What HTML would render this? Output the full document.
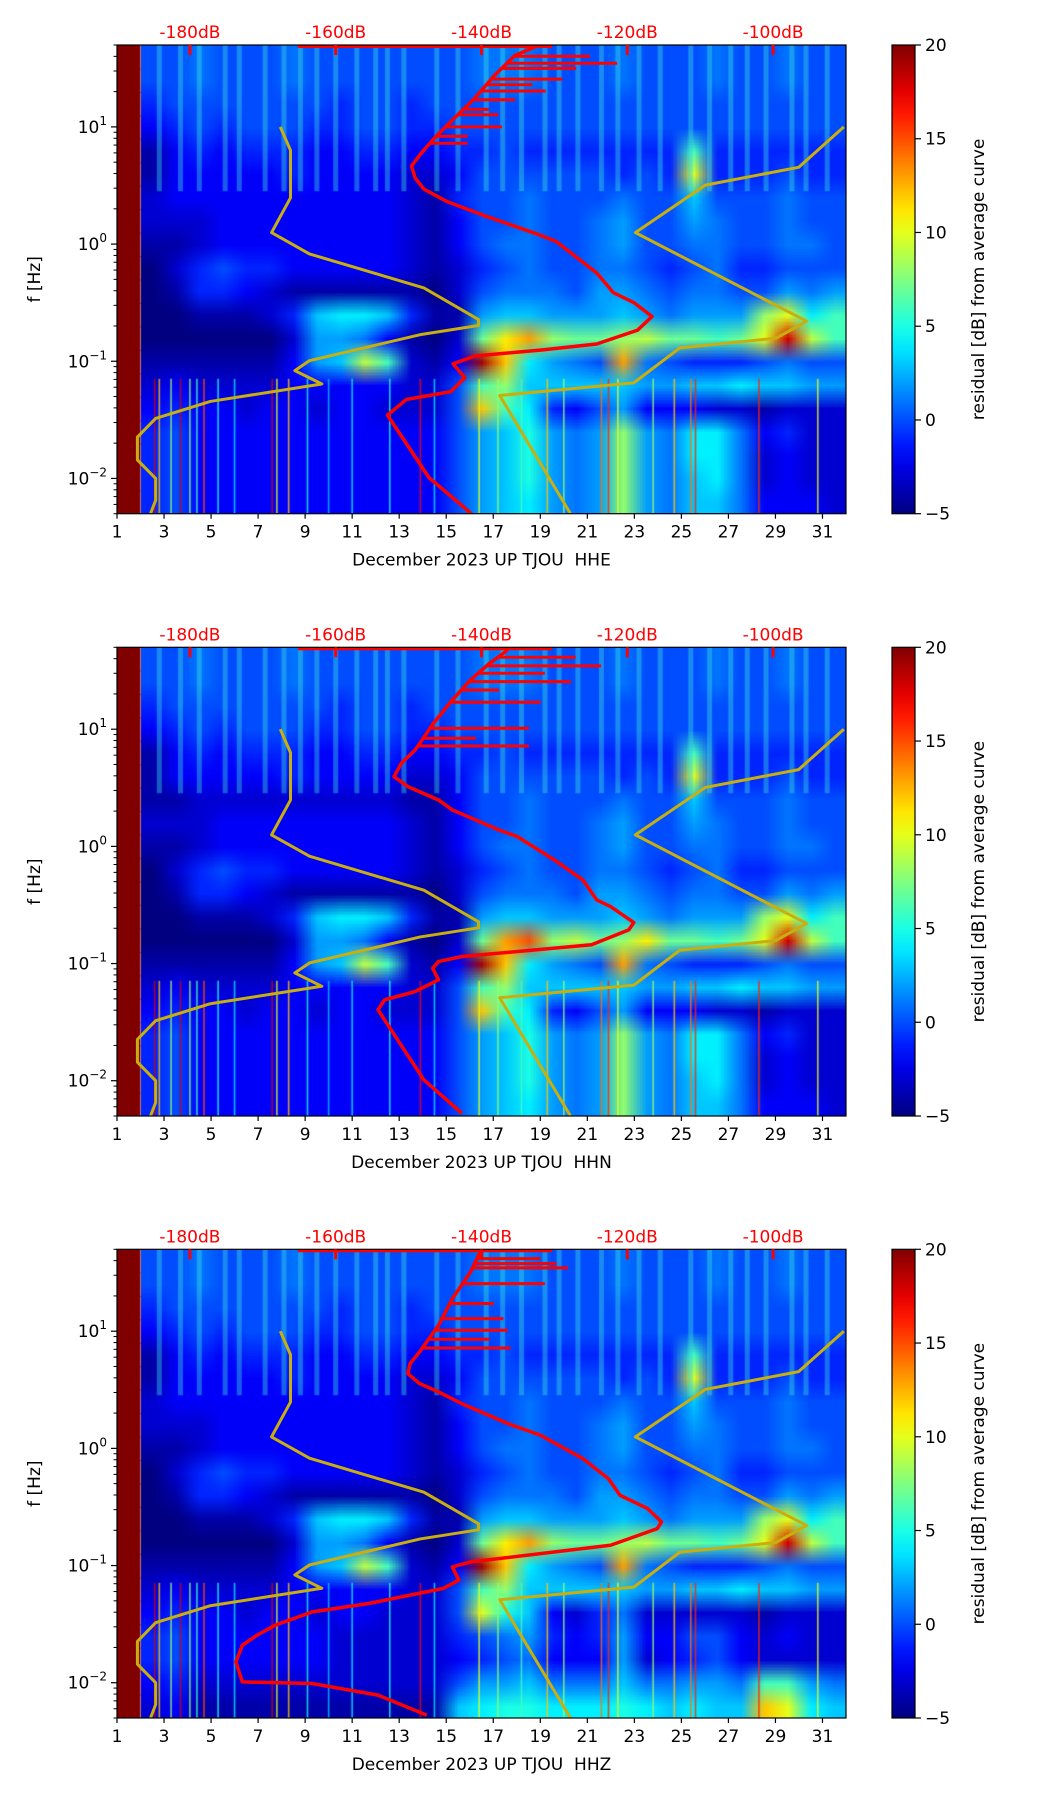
<!DOCTYPE html>
<html><head><meta charset="utf-8">
<style>
html,body{margin:0;padding:0;background:#fff;}
#wrap{position:relative;width:1052px;height:1806px;overflow:hidden;background:#fff;}
canvas{position:absolute;}
svg{position:absolute;left:0;top:0;}
text{font-family:"DejaVu Sans","Liberation Sans",sans-serif;white-space:pre;}
</style></head>
<body>
<div id="wrap">
<svg id="svg" width="1052" height="1806"></svg>
</div>
<script>
// ---------- data ----------
const dayTicks = [1,3,5,7,9,11,13,15,17,19,21,23,25,27,29,31];
const dbTicks = [-180,-160,-140,-120,-100];
const yDecades = [-2,-1,0,1];
const cbTicks = [20,15,10,5,0,-5];
const panelLabels = ["December 2023 UP TJOU\u00a0 HHE","December 2023 UP TJOU\u00a0 HHN","December 2023 UP TJOU\u00a0 HHZ"];

// Noise model curves (dB, log10 f)
const nlnmDb   = [-167.6,-166.2,-166.2,-168.8,-163.6,-147.9,-140.4,-140.4,-148.4,-163.6,-165.6,-161.9,-177.2,-184.7,-187.2,-187.2,-184.7,-184.7,-185.4];
const nlnmLogf = [1.0,0.80,0.395,0.098,-0.084,-0.374,-0.644,-0.695,-0.773,-0.995,-1.08,-1.194,-1.343,-1.488,-1.647,-1.842,-2.0,-2.187,-2.3];
const nhnmDb   = [-90.3,-96.5,-109.3,-118.9,-95.4,-99.6,-112.8,-119.1,-137.5,-127.8];
const nhnmLogf = [1.0,0.655,0.503,0.098,-0.658,-0.803,-0.886,-1.184,-1.292,-2.3];

// Red mean curves per panel
const redEDb   = [-141.4,-147.2,-152.9,-150.3,-144.2,-142.3,-143.9,-140.9,-131.6,-124.2,-118.6,-116.6,-119.1,-121.9,-124.2,-129.8,-132.6,-139.6,-144.7,-147.9,-149.1,-149.6,-148.4,-146.5,-143.8,-141.0,-138.2,-135.4,-132.6];
const redELogf = [-2.3,-1.993,-1.46,-1.326,-1.259,-1.14,-1.022,-0.955,-0.903,-0.853,-0.735,-0.618,-0.499,-0.415,-0.246,0.024,0.091,0.243,0.362,0.469,0.564,0.666,0.766,0.902,1.07,1.239,1.441,1.61,1.684];
const spikeELogf = [1.543,1.603,1.408,1.306,1.232,1.0,0.861,1.104,0.92,1.15,1.36,1.5];
const spikeEDb   = [-121.4,-125.1,-128.9,-131.2,-135.4,-137.2,-141.9,-137.7,-141.9,-139.0,-133.0,-127.0];

const redNDb   = [-142.7,-147.9,-154.2,-153.3,-149.1,-145.9,-146.7,-145.9,-142.7,-124.9,-119.8,-119.1,-122.3,-124.2,-126.1,-130.0,-135.1,-137.6,-144.0,-145.9,-150.1,-152.0,-151.0,-149.1,-146.6,-144.0,-141.5,-138.9,-136.4];
const redNLogf = [-2.277,-1.993,-1.395,-1.31,-1.239,-1.139,-1.04,-0.983,-0.94,-0.84,-0.713,-0.65,-0.514,-0.457,-0.286,-0.116,0.084,0.14,0.311,0.396,0.51,0.595,0.709,0.823,1.05,1.25,1.42,1.562,1.676];
const spikeNLogf = [0.857,0.923,1.008,1.23,1.335,1.406,1.54,1.614,1.477];
const spikeNDb   = [-133.5,-140.8,-133.5,-131.9,-137.6,-127.7,-123.6,-127.1,-131.3];

const redZDb   = [-147.5,-154.2,-163.2,-172.8,-173.7,-172.8,-170.8,-168.3,-163.2,-155.5,-145.3,-143.1,-144.0,-141.5,-122.3,-115.9,-115.3,-117.2,-121.0,-122.6,-126.1,-131.9,-136.4,-142.7,-145.9,-148.5,-150.1,-149.8,-148.5,-145.9,-144.0,-141.5,-140.2];
const redZLogf = [-2.277,-2.106,-2.007,-1.993,-1.822,-1.68,-1.595,-1.509,-1.395,-1.324,-1.196,-1.125,-1.012,-0.969,-0.827,-0.685,-0.628,-0.514,-0.4,-0.258,-0.087,0.112,0.212,0.382,0.482,0.553,0.638,0.723,0.823,1.05,1.278,1.505,1.676];
const spikeZLogf = [0.857,0.931,1.008,1.107,1.236,1.406,1.54,1.577,1.619];
const spikeZDb   = [-136.0,-138.9,-136.4,-137.0,-138.3,-131.3,-128.1,-129.7,-131.9];

// red line along top border (dB start, dB end)
const topLineDb = [-165.2,-130.3];

// Residual grid: 20 rows (log f 1.6 down to -2.2, 0.2 decade each) x 31 day columns (day 1..31)
const gridE = [
[20,0,0,1,0,0,0,1,0,0,0,0,0,0,0,1,1,1,0,0,0,1,0,0,0,1,0,0,1,0,0],
[20,0,0,1,0,0,0,1,0,0,0,0,0,0,0,1,1,1,0,0,0,1,0,0,0,1,0,0,1,0,0],
[20,-1,0,0,0,0,0,0,0,-1,0,0,-1,0,0,0,0,0,0,0,0,0,0,0,0,0,0,0,0,0,0],
[20,-2,-1,0,-1,0,0,0,-1,-1,0,0,-1,-1,0,0,0,0,0,0,0,0,0,0,0,0,0,0,0,0,0],
[20,-4,-2,-1,-2,-1,-1,-1,-2,-2,-1,-1,-2,-2,-1,-1,0,-1,-1,-1,-1,-1,-1,-1,6,-1,-1,-1,-1,-1,-1],
[20,-4,-2,-2,-2,-2,-2,-1,-2,-2,-2,-2,-3,-3,-2,0,0,0,0,0,0,-1,0,-1,10,-1,-1,-1,0,-1,-1],
[20,-3,-2,-2,-2,-2,-2,-2,-2,-2,-2,-2,-3,-4,-1,0,0,1,0,0,0,1,0,0,3,0,0,0,1,0,0],
[20,-3,-3,-3,-2,-2,-2,-2,-2,-2,-2,-2,-3,-4,-2,0,0,1,0,0,1,2,0,0,2,1,0,0,1,0,0],
[20,-4,-4,-3,-2,-2,-2,-2,-2,-2,-2,-2,-3,-4,-2,0,1,1,0,0,1,2,0,0,1,1,0,0,1,1,0],
[20,-5,-3,-1,0,-1,-1,-2,-2,-2,-2,-2,-3,-4,-3,-1,0,1,0,0,1,1,0,-1,0,1,-1,-1,0,0,0],
[20,-5,-4,-1,-1,-2,-3,-4,-4,-4,-4,-4,-4,-5,-3,0,1,1,1,0,2,2,1,0,1,1,0,0,2,1,2],
[20,-5,-5,-4,-4,-4,-3,-1,3,4,4,3,-1,-4,-4,2,3,3,2,2,2,3,2,1,2,2,2,8,10,4,6],
[20,-5,-5,-5,-5,-5,-5,-3,2,2,1,-2,-4,-5,-3,7,11,13,8,7,7,8,9,7,7,6,7,10,18,9,6],
[20,-4,-4,-4,-4,-4,-4,-2,2,3,9,6,-3,-4,-2,19,12,4,2,1,0,13,1,0,-1,-1,-1,0,1,0,0],
[20,-3,-2,-3,-3,-3,-3,-2,-2,-2,-2,-2,-3,-3,0,6,8,3,3,3,3,3,2,2,3,3,4,3,3,2,2],
[20,-2,-1,-2,-2,-3,-2,-2,-3,-2,-2,-3,-3,-3,0,12,6,4,-1,-2,0,2,-2,-2,-2,-3,-3,-4,-3,-3,-3],
[20,-1,0,-2,-2,-2,-2,-2,-2,-2,-2,-2,-2,-2,0,2,3,5,2,1,2,8,2,1,4,4,1,-2,-1,-3,-3],
[20,-1,0,-2,-2,-2,-2,-2,-2,-2,-2,-2,-2,-2,0,2,3,5,2,1,2,8,2,1,4,4,1,-3,-2,-3,-3],
[20,-1,0,-2,-2,-2,-2,-2,-2,-2,-2,-2,-2,-2,0,2,3,5,2,1,2,8,2,1,3,4,1,-3,-2,-3,-3],
[20,-1,0,-2,-2,-2,-2,-2,-2,-2,-2,-2,-2,-2,0,2,3,4,2,1,2,8,2,1,3,3,1,-2,-2,-2,-3]
];
// HHN: lower boundary of high-frequency band differs slightly
const gridNRow6 = [20,-4,-4,-3,-3,-3,-3,-3,-3,-3,-3,-3,-4,-4,-2,0,0,1,0,0,0,1,0,0,3,0,0,0,1,0,0];
const gridNRow12 = [20,-5,-5,-5,-5,-5,-5,-3,2,2,1,-2,-4,-5,-3,7,13,15,8,9,7,8,11,7,7,6,7,10,18,9,6];
// HHZ: replaces rows 15..19
const gridZLow = [
[20,-2,-1,-2,-2,-3,-2,-2,-3,-2,-2,-3,-3,-3,0,10,5,3,-2,-3,-1,1,-3,-3,-3,-3,-3,-4,-3,-3,-3],
[20,-1,0,-2,-2,-2,-2,-2,-2,-3,-3,-3,-3,-3,-1,0,1,2,-1,-2,-1,2,-2,-2,0,0,-2,-3,-2,-3,-3],
[20,-1,0,-2,-2,-2,-2,-2,-2,-3,-3,-3,-3,-3,-2,-1,0,1,-2,-2,-2,2,-3,-2,-1,0,-2,-3,-3,-3,-3],
[20,-2,-1,-3,-3,-3,-3,-3,-3,-3,-3,-3,-3,-3,0,2,2,3,1,1,1,3,1,1,2,2,1,6,6,2,1],
[20,-3,-2,-4,-4,-4,-4,-4,-4,-4,-4,-4,-4,-4,3,4,5,5,4,4,4,5,4,3,4,3,3,12,10,4,3]
];

// vertical streaks
const hiStreakDays = [2.8,3.7,4.5,5.6,6.2,7.3,8.1,8.8,9.5,10.3,11.2,12.0,12.5,13.2,14.6,15.5,16.7,17.4,18.2,19.2,19.8,20.6,21.6,22.3,23.2,24.1,25.4,26.2,27.1,27.8,28.6,29.7,30.3,31.2];
const loStreakDays = [2.6,2.8,3.3,3.7,4.1,4.4,4.7,5.3,6.0,7.6,7.8,8.3,9.1,10.0,11.0,12.6,13.9,14.5,16.4,17.2,18.2,19.3,20.0,21.6,21.9,22.3,23.8,24.7,25.4,25.6,28.3,30.8];
const loStreakVals = [18,12,8,18,8,6,15,5,4,18,10,12,5,3,4,5,17,4,10,8,6,12,8,14,16,10,8,12,14,16,16,10];

// ---------- geometry ----------
const AX_L=117, AX_R=846, AX_H=468.7, PANEL_TOPS=[45,647.3,1249.3];
const LOG_TOP=Math.log10(50), LOG_BOT=Math.log10(0.005);
const CB_L=892, CB_W=23;
function xDay(d){return AX_L+(d-1)*(AX_R-AX_L)/31;}
function xDb(db){return AX_L+(db+190)*(AX_R-AX_L)/100;}
function yLog(top,lf){return top+(LOG_TOP-lf)*AX_H/(LOG_TOP-LOG_BOT);}
function jet(v){
  let t=Math.max(0,Math.min(1,(v+5)/25));
  const c=x=>Math.round(255*Math.max(0,Math.min(1,x)));
  return [c(1.5-Math.abs(4*t-3)),c(1.5-Math.abs(4*t-2)),c(1.5-Math.abs(4*t-1))];
}
function rgb(a){return `rgb(${a[0]},${a[1]},${a[2]})`;}
const NS="http://www.w3.org/2000/svg";
const svg=document.getElementById('svg');
function el(tag,attrs,parent){const e=document.createElementNS(NS,tag);for(const k in attrs)e.setAttribute(k,attrs[k]);(parent||svg).appendChild(e);return e;}

const defs=el('defs',{});
const lg=el('linearGradient',{id:'jetg',x1:0,y1:1,x2:0,y2:0},defs);
for(let i=0;i<=20;i++){const v=-5+25*i/20;el('stop',{offset:(i/20),'stop-color':rgb(jet(v))},lg);}

function interpDb(dbs,lfs,lf){
  for(let i=0;i<lfs.length-1;i++){
    const a=lfs[i],b=lfs[i+1];
    if((lf>=a&&lf<=b)||(lf<=a&&lf>=b)){const t=(lf-a)/(b-a||1);return dbs[i]+t*(dbs[i+1]-dbs[i]);}
  }
  return dbs[dbs.length-1];
}

function drawPanel(pi,grid,rDb,rLf,sLf,sDb){
  const top=PANEL_TOPS[pi], bot=top+AX_H;
  const wrap=document.getElementById('wrap');
  const cv=document.createElement('canvas');
  cv.width=AX_R-AX_L; cv.height=Math.round(AX_H);
  cv.style.left=AX_L+'px'; cv.style.top=top+'px';
  
  
  wrap.insertBefore(cv,svg);
  const ctx=cv.getContext('2d');
  const nR=grid.length,nC=grid[0].length;
  const off=document.createElement('canvas');off.width=nC-1;off.height=nR;
  const octx=off.getContext('2d');const img=octx.createImageData(nC-1,nR);
  for(let r=0;r<nR;r++)for(let c=1;c<nC;c++){const col=jet(grid[r][c]);const k=(r*(nC-1)+(c-1))*4;img.data[k]=col[0];img.data[k+1]=col[1];img.data[k+2]=col[2];img.data[k+3]=255;}
  octx.putImageData(img,0,0);
  ctx.imageSmoothingEnabled=true;
  const x2=xDay(2)-AX_L;
  ctx.drawImage(off,0,0,nC-1,nR,x2,0,cv.width-x2,cv.height);
  for(let r=0;r<nR;r++){ctx.fillStyle=rgb(jet(grid[r][0]));ctx.fillRect(0,r*cv.height/nR,x2,cv.height/nR+1);}
  const yHiEnd=yLog(top,0.45)-top;
  ctx.globalAlpha=0.4;ctx.strokeStyle='rgb(60,230,220)';ctx.lineWidth=5;
  hiStreakDays.forEach(d=>{const x=xDay(d)-AX_L;ctx.beginPath();ctx.moveTo(x,0);ctx.lineTo(x,yHiEnd);ctx.stroke();});
  ctx.globalAlpha=0.8;ctx.lineWidth=1.6;
  const yLo0=yLog(top,-1.15)-top;
  loStreakDays.forEach((d,i)=>{const x=xDay(d)-AX_L;ctx.strokeStyle=rgb(jet(loStreakVals[i]));ctx.beginPath();ctx.moveTo(x,yLo0);ctx.lineTo(x,cv.height);ctx.stroke();});
  ctx.globalAlpha=1;

  const g=el('g',{});
  
  
  const clipId='clip'+pi;
  const cp=el('clipPath',{id:clipId},defs);el('rect',{x:AX_L,y:top,width:AX_R-AX_L,height:AX_H},cp);
  const cg=el('g',{'clip-path':`url(#${clipId})`},g);
  const nl=el('polyline',{points:nlnmDb.map((d,i)=>xDb(d)+','+yLog(top,nlnmLogf[i])).join(' '),fill:'none',stroke:'rgb(200,175,15)','stroke-width':3,'stroke-linejoin':'round'},cg);
  
  const nh=el('polyline',{points:nhnmDb.map((d,i)=>xDb(d)+','+yLog(top,nhnmLogf[i])).join(' '),fill:'none',stroke:'rgb(200,175,15)','stroke-width':3,'stroke-linejoin':'round'},cg);
  
  sLf.forEach((lf,i)=>{
    const s=el('line',{x1:xDb(interpDb(rDb,rLf,lf)),x2:xDb(sDb[i]),y1:yLog(top,lf),y2:yLog(top,lf),stroke:'red','stroke-width':3},cg);
    
  });
  const rc=el('polyline',{points:rDb.map((d,i)=>xDb(d)+','+yLog(top,rLf[i])).join(' '),fill:'none',stroke:'red','stroke-width':3.5,'stroke-linejoin':'round'},cg);
  
  const tl=el('line',{x1:xDb(topLineDb[0]),x2:xDb(topLineDb[1]),y1:top+1.5,y2:top+1.5,stroke:'red','stroke-width':3},cg);
  
  const fr=el('rect',{x:AX_L,y:top,width:AX_R-AX_L,height:AX_H,fill:'none',stroke:'#000','stroke-width':1.2},g);
  
  dbTicks.forEach(db=>{
    const x=xDb(db);
    el('line',{x1:x,x2:x,y1:top,y2:top+10,stroke:'red','stroke-width':3},g);
    const t=el('text',{x:x,y:top-7,'text-anchor':'middle','font-size':17,fill:'red'},g);
    t.textContent=db+'dB';
    
  });
  dayTicks.forEach(d=>{
    const x=xDay(d);
    el('line',{x1:x,x2:x,y1:bot,y2:bot+5,stroke:'#000','stroke-width':1.2},g);
    const t=el('text',{x:x,y:bot+24,'text-anchor':'middle','font-size':17,fill:'#000'},g);
    t.textContent=d;
    
  });
  const xl=el('text',{x:(AX_L+AX_R)/2,y:bot+52,'text-anchor':'middle','font-size':17,fill:'#000'},g);
  xl.textContent=panelLabels[pi];
  
  yDecades.forEach(dec=>{
    const y=yLog(top,dec);
    el('line',{x1:AX_L-6,x2:AX_L,y1:y,y2:y,stroke:'#000','stroke-width':1.2},g);
    const t=el('text',{x:AX_L-10,y:y+6,'text-anchor':'end','font-size':17,fill:'#000'},g);
    const a=el('tspan',{},t);a.textContent='10';
    const b=el('tspan',{'font-size':12,dy:-8},t);b.textContent=(dec<0?'\u2212':'')+Math.abs(dec);
    
  });
  for(let dec=-3;dec<=1;dec++)for(let m=2;m<=9;m++){
    const lf=dec+Math.log10(m);if(lf>LOG_TOP||lf<LOG_BOT)continue;
    const y=yLog(top,lf);el('line',{x1:AX_L-3.5,x2:AX_L,y1:y,y2:y,stroke:'#000','stroke-width':1},g);
  }
  const yl=el('text',{x:0,y:0,'text-anchor':'middle','font-size':17,fill:'#000',transform:`translate(40,${top+AX_H/2}) rotate(-90)`},g);
  yl.textContent='f [Hz]';
  
  const cb=el('rect',{x:CB_L,y:top,width:CB_W,height:AX_H,fill:'url(#jetg)',stroke:'#000','stroke-width':1.2},g);
  
  cbTicks.forEach(v=>{
    const y=top+(20-v)/25*AX_H;
    el('line',{x1:CB_L+CB_W,x2:CB_L+CB_W+6,y1:y,y2:y,stroke:'#000','stroke-width':1.2},g);
    const t=el('text',{x:CB_L+CB_W+10,y:y+6,'font-size':17,fill:'#000'},g);
    t.textContent=(v<0?'\u2212':'')+Math.abs(v);
    
  });
  const cl=el('text',{x:0,y:0,'text-anchor':'middle','font-size':17,fill:'#000',transform:`translate(984,${top+AX_H/2}) rotate(-90)`},g);
  cl.textContent='residual [dB] from average curve';
  
}

const gridN=gridE.map((r,i)=>i===6?gridNRow6:(i===12?gridNRow12:r));
const gridZ=gridE.map((r,i)=>i>=15?gridZLow[i-15]:r);
drawPanel(0,gridE,redEDb,redELogf,spikeELogf,spikeEDb);
drawPanel(1,gridN,redNDb,redNLogf,spikeNLogf,spikeNDb);
drawPanel(2,gridZ,redZDb,redZLogf,spikeZLogf,spikeZDb);
</script>
</body></html>
